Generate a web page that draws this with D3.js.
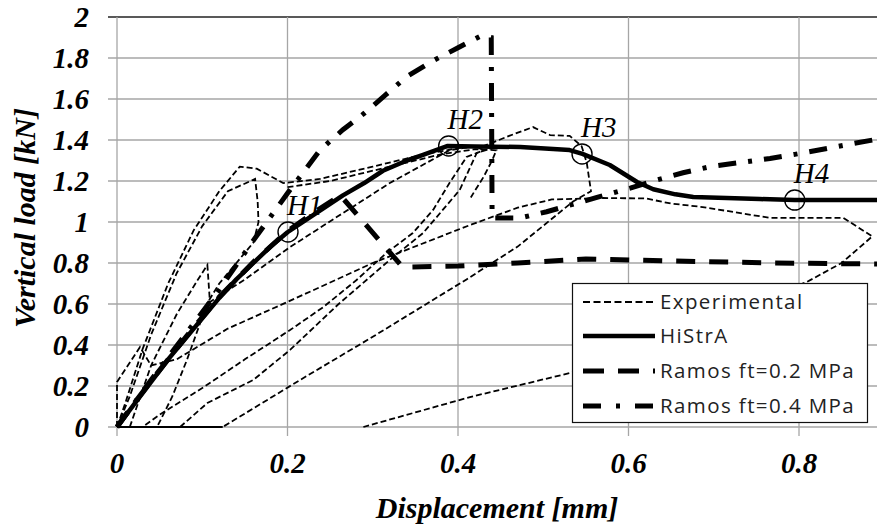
<!DOCTYPE html>
<html><head><meta charset="utf-8">
<script src="https://cdn.jsdelivr.net/npm/d3@7"></script>
<style>body{margin:0;background:#fff} svg{display:block}</style>
</head><body><svg id="c" width="877" height="529"></svg>
<script>
// ---- data ----
const xTicks = [0, 0.2, 0.4, 0.6, 0.8];
const xTickLabels = ["0", "0.2", "0.4", "0.6", "0.8"];
const yTicks = [0, 0.2, 0.4, 0.6, 0.8, 1, 1.2, 1.4, 1.6, 1.8, 2];
const yTickLabels = ["0", "0.2", "0.4", "0.6", "0.8", "1", "1.2", "1.4", "1.6", "1.8", "2"];
const xTitle = "Displacement [mm]";
const yTitle = "Vertical load [kN]";
const legendLabels = ["Experimental", "HiStrA", "Ramos ft=0.2 MPa", "Ramos ft=0.4 MPa"];

const histra = [[0,0],[0.02,0.11],[0.04,0.22],[0.06,0.33],[0.08,0.43],[0.1,0.53],[0.12,0.63],[0.14,0.72],[0.16,0.8],[0.18,0.88],[0.2,0.95],[0.227,1.025],[0.265,1.13],[0.29,1.19],[0.312,1.25],[0.34,1.3],[0.359,1.327],[0.388,1.371],[0.42,1.368],[0.473,1.366],[0.531,1.351],[0.546,1.332],[0.578,1.278],[0.61,1.195],[0.629,1.16],[0.655,1.135],[0.676,1.122],[0.754,1.112],[0.795,1.107],[0.9,1.107]];

const ramos02 = [[0,0],[0.02,0.115],[0.04,0.225],[0.08,0.435],[0.12,0.635],[0.16,0.805],[0.2,0.955],[0.227,1.035],[0.262,1.13],[0.335,0.78],[0.4,0.785],[0.47,0.8],[0.55,0.82],[0.65,0.81],[0.77,0.8],[0.9,0.795]];

const ramos04 = [[0,0],[0.04,0.23],[0.08,0.45],[0.12,0.67],[0.16,0.91],[0.2,1.14],[0.238,1.35],[0.265,1.45],[0.29,1.53],[0.315,1.62],[0.34,1.71],[0.37,1.785],[0.4,1.85],[0.428,1.91],[0.439,1.9],[0.44,1.02],[0.473,1.02],[0.504,1.05],[0.563,1.12],[0.602,1.165],[0.633,1.205],[0.664,1.24],[0.696,1.27],[0.731,1.29],[0.766,1.31],[0.795,1.33],[0.828,1.355],[0.86,1.38],[0.9,1.41]];

const exp1 = [[0,0],[0.01,0.12],[0.03,0.38],[0.06,0.7],[0.09,0.96],[0.12,1.15],[0.144,1.27],[0.164,1.26],[0.195,1.19],[0.238,1.21],[0.3,1.27],[0.36,1.33],[0.4,1.36],[0.43,1.37],[0.46,1.42],[0.488,1.463],[0.508,1.424],[0.531,1.42],[0.545,1.37],[0.551,1.29],[0.556,1.15],[0.535,1.1],[0.47,0.88],[0.41,0.72],[0.3,0.44],[0.215,0.23],[0.124,0]];
const exp2 = [[0,0],[0.015,0.15],[0.04,0.45],[0.07,0.75],[0.1,0.98],[0.13,1.15],[0.162,1.21],[0.165,1.1],[0.166,1.0],[0.16,0.9],[0.14,0.8],[0.12,0.7],[0.106,0.605],[0.082,0.327],[0.065,0.15],[0.047,0]];
const exp3 = [[0.015,0],[0.04,0.3],[0.07,0.55],[0.095,0.72],[0.106,0.79],[0.109,0.61],[0.15,0.72],[0.203,0.878],[0.26,1.03],[0.32,1.19],[0.39,1.35],[0.42,1.37],[0.43,1.35],[0.41,1.317],[0.39,1.19],[0.371,1.06],[0.347,0.946],[0.316,0.849],[0.281,0.717],[0.242,0.585],[0.203,0.473],[0.15,0.33],[0.1,0.19],[0.05,0.06],[0.03,0]];
const exp4 = [[0.074,0],[0.106,0.117],[0.16,0.23],[0.203,0.376],[0.26,0.6],[0.32,0.815],[0.359,0.946],[0.402,1.156],[0.422,1.337],[0.44,1.36]];
const exp5 = [[0,0],[0,0.22],[0.027,0.39],[0.04,0.3],[0.07,0.33],[0.13,0.48],[0.2,0.61],[0.3,0.8],[0.414,0.985],[0.47,1.07],[0.51,1.11],[0.57,1.117],[0.62,1.115],[0.65,1.09],[0.687,1.073],[0.766,1.02],[0.852,1.02],[0.886,0.93],[0.85,0.8],[0.809,0.707],[0.7,0.53],[0.6,0.36],[0.531,0.263],[0.414,0.146],[0.289,0]];
const exp6 = [[0.2,1.17],[0.25,1.2],[0.32,1.27],[0.38,1.33],[0.42,1.355],[0.445,1.35],[0.44,1.3],[0.43,1.22],[0.415,1.12]];
const expBase = [[0,0],[0.124,0]];
const experimental = [exp1, exp2, exp3, exp4, exp5, exp6];

const markers = [[0.2006,0.951],[0.389,1.371],[0.5455,1.332],[0.795,1.107]];
const markerLabels = ["1","2","3","4"];

// ---- drawing ----
const svg = d3.select("#c");
svg.append("rect").attr("width",877).attr("height",529).attr("fill","#fff");
const x = d3.scaleLinear().domain([0,0.9]).range([117,884.25]);
const y = d3.scaleLinear().domain([0,2]).range([427,17]);
const serif = "'Liberation Serif','Times New Roman',serif";

svg.append("defs").append("clipPath").attr("id","clip")
  .append("rect").attr("x",x(0)-3).attr("y",y(2)-2).attr("width",x(0.9)-x(0)+3).attr("height",y(0)-y(2)+6);

// gridlines + tick marks
const g = svg.append("g");
g.selectAll(".hg").data(yTicks).join("line")
  .attr("x1",x(0)-9).attr("x2",x(0.9)).attr("y1",d=>y(d)).attr("y2",d=>y(d))
  .attr("stroke",d=>d===2?"#222":"#a6a6a6").attr("stroke-width",1.3);
g.selectAll(".vg").data(xTicks).join("line")
  .attr("x1",d=>x(d)).attr("x2",d=>x(d)).attr("y1",y(2)).attr("y2",y(0)+9)
  .attr("stroke","#a6a6a6").attr("stroke-width",1.3);

// tick labels
svg.selectAll(".yl").data(yTicks).join("text")
  .attr("x",89).attr("y",d=>y(d)+10).attr("text-anchor","end")
  .attr("font-family",serif).attr("font-weight","bold").attr("font-style","italic").attr("font-size",29)
  .text((d,i)=>yTickLabels[i]);
svg.selectAll(".xl").data(xTicks).join("text")
  .attr("x",d=>x(d)).attr("y",473).attr("text-anchor","middle")
  .attr("font-family",serif).attr("font-weight","bold").attr("font-style","italic").attr("font-size",29)
  .text((d,i)=>xTickLabels[i]);

// axis titles
svg.append("text").attr("x",497).attr("y",518).attr("text-anchor","middle")
  .attr("font-family",serif).attr("font-weight","bold").attr("font-style","italic").attr("font-size",30)
  .text(xTitle);
svg.append("text").attr("transform","translate(35,218) rotate(-90)").attr("text-anchor","middle")
  .attr("font-family",serif).attr("font-weight","bold").attr("font-style","italic").attr("font-size",30)
  .text(yTitle);

const line = d3.line().x(d=>x(d[0])).y(d=>y(d[1]));
const plot = svg.append("g").attr("clip-path","url(#clip)");

// experimental
plot.selectAll(".exp").data(experimental).join("path")
  .attr("d",line).attr("fill","none").attr("stroke","#000").attr("stroke-width",1.8)
  .attr("stroke-dasharray","6,3");
plot.append("path").attr("d",line(expBase)).attr("fill","none").attr("stroke","#000").attr("stroke-width",2);

// Ramos 0.2
plot.append("path").attr("d",line(ramos02)).attr("fill","none").attr("stroke","#000")
  .attr("stroke-width",5).attr("stroke-dasharray","19,14");
// Ramos 0.4
plot.append("path").attr("d",line(ramos04)).attr("fill","none").attr("stroke","#000")
  .attr("stroke-width",5).attr("stroke-dasharray","18,12,4,12");
// HiStrA
plot.append("path").attr("d",line(histra)).attr("fill","none").attr("stroke","#000")
  .attr("stroke-width",4.5).attr("stroke-linejoin","round");

// markers
svg.selectAll(".mk").data(markers).join("circle")
  .attr("cx",d=>x(d[0])).attr("cy",d=>y(d[1])).attr("r",10)
  .attr("fill","none").attr("stroke","#000").attr("stroke-width",1.4);
const ml = svg.selectAll(".ml").data(markers).join("text")
  .attr("x",d=>x(d[0])-1).attr("y",d=>y(d[1])-17)
  .attr("font-family",serif).attr("font-style","italic").attr("font-size",29);
ml.append("tspan").text("H");
ml.append("tspan").text((d,i)=>markerLabels[i]);

// legend
const lg = svg.append("g");
lg.append("rect").attr("x",572.5).attr("y",283.5).attr("width",295).attr("height",139)
  .attr("fill","#fff").attr("stroke","#111").attr("stroke-width",1.2);
const rows = [302,336,371,406];
const styles = [
  {w:1.8,dash:"7,3.5"},
  {w:4.5,dash:null},
  {w:5,dash:"21,14"},
  {w:5,dash:"18,15,4,15"}
];
legendLabels.forEach((t,i)=>{
  const s = styles[i];
  const p = lg.append("line").attr("x1",583).attr("x2",655).attr("y1",rows[i]).attr("y2",rows[i])
    .attr("stroke","#000").attr("stroke-width",s.w);
  if(s.dash) p.attr("stroke-dasharray",s.dash);
  lg.append("text").attr("x",660).attr("y",rows[i]+7)
    .attr("font-family","'Open Sans', Lato, sans-serif").attr("font-size",20.5).attr("fill","#222")
    .attr("letter-spacing",1.4)
    .text(t);
});
</script></body></html>
